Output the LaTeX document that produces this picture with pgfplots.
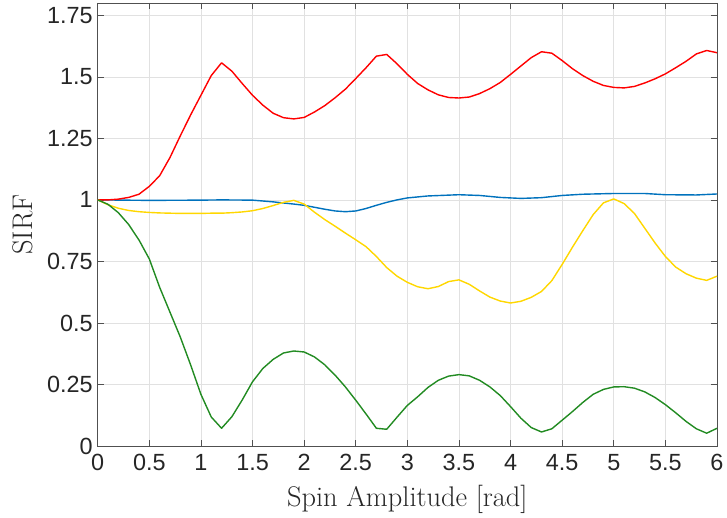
\documentclass[border=0pt]{standalone}
\usepackage{fontspec}
\usepackage{pgfplots}
\pgfplotsset{compat=1.18}
\newfontfamily\arialf{Liberation Sans}
\definecolor{mblue}{RGB}{0,114,189}
\definecolor{mred}{RGB}{255,0,0}
\definecolor{myellow}{RGB}{255,215,0}
\definecolor{mgreen}{RGB}{34,139,34}
\definecolor{tickgray}{RGB}{38,38,38}
\definecolor{axgray}{RGB}{80,80,80}
\definecolor{gridgray}{RGB}{225,225,225}
\begin{document}
\begin{tikzpicture}
\begin{axis}[
  scale only axis, width=619.3bp, height=443bp,
  xmin=0, xmax=6, ymin=0, ymax=1.8,
  xtick={0,0.5,1,1.5,2,2.5,3,3.5,4,4.5,5,5.5,6},
  xticklabels={0,0.5,1,1.5,2,2.5,3,3.5,4,4.5,5,5.5,6},
  ytick={0,0.25,0.5,0.75,1,1.25,1.5,1.75},
  yticklabels={0,0.25,0.5,0.75,1,1.25,1.5,1.75},
  tick pos=both, tick align=inside, major tick length=6bp,
  every tick/.style={axgray, line width=0.6bp},
  axis line style={axgray, line width=0.8bp},
  grid=major, major grid style={gridgray, line width=0.6bp},
  ticklabel style={font=\arialf\fontsize{23.5}{27}\selectfont, text=tickgray},
  xticklabel style={yshift=-5bp},
  yticklabel style={xshift=-1.5bp},
  /pgf/number format/assume math mode=true,
  xlabel={Spin Amplitude [rad]}, ylabel={SIRF},
  label style={font=\fontsize{28.5}{32}\selectfont, text=tickgray},
  xlabel style={at={(axis description cs:0.5,-0.137)}, anchor=base},
  ylabel style={at={(axis description cs:-0.1045,0.5)}, anchor=base, rotate=0},
  every axis plot/.append style={line width=1.4bp, line join=round},
]
\addplot[mblue] coordinates {
(0,1.0)(0.5,0.998)(1.0,0.999)(1.2,1.0)(1.5,0.999)(1.7,0.992)(1.9,0.983)(2.0,0.978)(2.1,0.97)(2.2,0.962)(2.3,0.955)(2.4,0.952)(2.5,0.955)(2.6,0.965)(2.7,0.978)(2.8,0.99)(2.9,1.0)(3.0,1.008)(3.2,1.016)(3.5,1.021)(3.7,1.018)(3.9,1.01)(4.1,1.006)(4.3,1.009)(4.5,1.018)(4.7,1.023)(5.0,1.026)(5.3,1.026)(5.5,1.021)(5.8,1.02)(6.0,1.024)};
\addplot[mred] coordinates {
(0,1.0)(0.1,1.0)(0.2,1.003)(0.3,1.01)(0.4,1.023)(0.5,1.055)(0.6,1.098)(0.7,1.172)(0.8,1.26)(0.9,1.345)(1.0,1.425)(1.1,1.505)(1.2,1.557)(1.3,1.523)(1.4,1.473)(1.5,1.425)(1.6,1.385)(1.7,1.352)(1.8,1.334)(1.9,1.329)(2.0,1.335)(2.1,1.357)(2.2,1.383)(2.3,1.415)(2.4,1.45)(2.5,1.493)(2.6,1.537)(2.7,1.584)(2.8,1.591)(2.9,1.553)(3.0,1.51)(3.1,1.473)(3.2,1.447)(3.3,1.427)(3.4,1.416)(3.5,1.414)(3.6,1.418)(3.7,1.432)(3.8,1.452)(3.9,1.477)(4.0,1.51)(4.1,1.544)(4.2,1.578)(4.3,1.602)(4.4,1.596)(4.5,1.566)(4.6,1.533)(4.7,1.505)(4.8,1.482)(4.9,1.465)(5.0,1.457)(5.1,1.455)(5.2,1.461)(5.3,1.475)(5.4,1.492)(5.5,1.512)(5.6,1.537)(5.7,1.563)(5.8,1.593)(5.9,1.607)(6.0,1.598)};
\addplot[myellow] coordinates {
(0,1.0)(0.1,0.98)(0.2,0.966)(0.3,0.957)(0.4,0.952)(0.5,0.949)(0.6,0.947)(0.7,0.946)(0.8,0.945)(0.9,0.945)(1.0,0.945)(1.1,0.946)(1.2,0.946)(1.3,0.948)(1.4,0.951)(1.5,0.956)(1.6,0.965)(1.7,0.977)(1.8,0.99)(1.9,0.998)(2.0,0.983)(2.1,0.95)(2.2,0.92)(2.3,0.893)(2.4,0.865)(2.5,0.838)(2.6,0.81)(2.7,0.77)(2.8,0.725)(2.9,0.69)(3.0,0.665)(3.1,0.647)(3.2,0.639)(3.3,0.648)(3.4,0.668)(3.5,0.675)(3.6,0.657)(3.7,0.63)(3.8,0.605)(3.9,0.589)(4.0,0.581)(4.1,0.588)(4.2,0.604)(4.3,0.628)(4.4,0.672)(4.5,0.738)(4.6,0.808)(4.7,0.875)(4.8,0.94)(4.9,0.988)(5.0,1.004)(5.1,0.985)(5.2,0.945)(5.3,0.885)(5.4,0.825)(5.5,0.77)(5.6,0.727)(5.7,0.7)(5.8,0.682)(5.9,0.673)(6.0,0.69)};
\addplot[mgreen] coordinates {
(0,1.0)(0.1,0.982)(0.2,0.948)(0.3,0.9)(0.4,0.837)(0.5,0.76)(0.6,0.645)(0.7,0.544)(0.8,0.443)(0.9,0.33)(1.0,0.21)(1.1,0.118)(1.2,0.072)(1.3,0.119)(1.4,0.187)(1.5,0.261)(1.6,0.315)(1.7,0.352)(1.8,0.378)(1.9,0.386)(2.0,0.382)(2.1,0.362)(2.2,0.33)(2.3,0.288)(2.4,0.24)(2.5,0.186)(2.6,0.13)(2.7,0.072)(2.8,0.068)(2.9,0.117)(3.0,0.165)(3.1,0.2)(3.2,0.238)(3.3,0.267)(3.4,0.284)(3.5,0.29)(3.6,0.285)(3.7,0.267)(3.8,0.24)(3.9,0.205)(4.0,0.16)(4.1,0.113)(4.2,0.075)(4.3,0.057)(4.4,0.07)(4.5,0.105)(4.6,0.14)(4.7,0.177)(4.8,0.21)(4.9,0.23)(5.0,0.24)(5.1,0.241)(5.2,0.235)(5.3,0.22)(5.4,0.197)(5.5,0.168)(5.6,0.135)(5.7,0.1)(5.8,0.07)(5.9,0.052)(6.0,0.072)};
\end{axis}
\path (-97.7bp,-71bp) rectangle (629.3bp,446bp);
\end{tikzpicture}
\end{document}
